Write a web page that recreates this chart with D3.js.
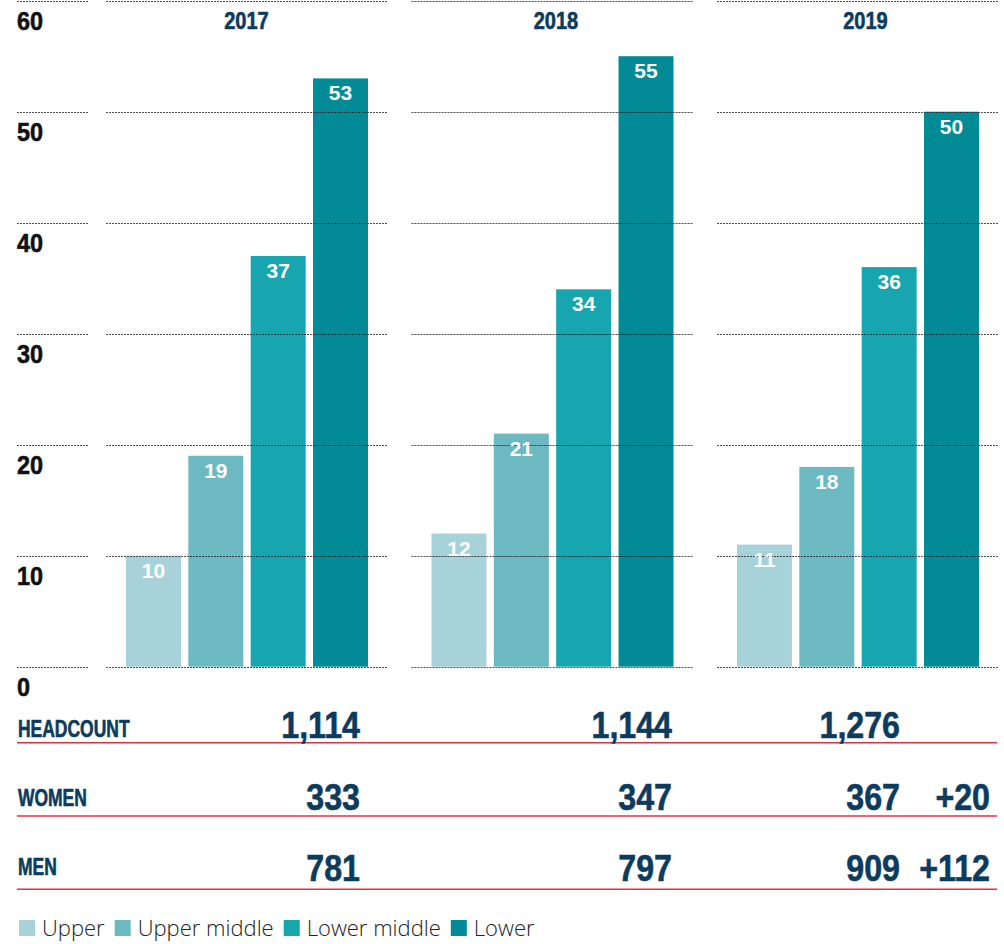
<!DOCTYPE html>
<html>
<head>
<meta charset="utf-8">
<script src="https://cdn.jsdelivr.net/npm/d3@7"></script>
<style>
  body { margin: 0; background: #fff; }
  .cond { font-family: "Liberation Sans", Arial, sans-serif; font-weight: bold; stroke-width: 0.6; }
</style>
</head>
<body>
<script>
var w = 1004;
var h = 944;

// data
var years = ["2017", "2018", "2019"];
var categories = ["Upper", "Upper middle", "Lower middle", "Lower"];
var upper = [10, 12, 11];
var upperMiddle = [19, 21, 18];
var lowerMiddle = [37, 34, 36];
var lower = [53, 55, 50];
var yTicks = [0, 10, 20, 30, 40, 50, 60];

var rowLabels = ["HEADCOUNT", "WOMEN", "MEN"];
var headcount = ["1,114", "1,144", "1,276"];
var women = ["333", "347", "367"];
var men = ["781", "797", "909"];
var change = ["", "+20", "+112"];

var colors = ["#a8d2d9", "#6cb9c2", "#17a5b0", "#028b96"];
var navy = "#0d3b5e";

var series = [upper, upperMiddle, lowerMiddle, lower];
var rows = [headcount, women, men];

var svg = d3.select("body")
    .append("svg")
    .attr("width", w)
    .attr("height", h);

// no narrow font installed, so squeeze bold text horizontally
function squeeze(x, y, sx) {
    return "translate(" + x + "," + y + ") scale(" + sx + ",1)";
}

// scales
var yScale = d3.scaleLinear()
    .domain([0, 60])
    .range([666.7, 0.7]);

var xGroup = d3.scalePoint()
    .domain(years)
    .range([247, 858]);

var xLabel = d3.scalePoint()
    .domain(years)
    .range([246.5, 865.5]);

var xSub = d3.scaleBand()
    .domain(categories)
    .range([-121, 121])
    .paddingInner(0.118);

var color = d3.scaleOrdinal()
    .domain(categories)
    .range(colors);

// flatten into bar records
var bars = [];
years.forEach(function (yr, i) {
    categories.forEach(function (c, j) {
        bars.push({year: yr, cat: c, value: series[j][i]});
    });
});

// bars
svg.selectAll("rect.bar")
    .data(bars)
    .enter()
    .append("rect")
    .attr("class", "bar")
    .attr("x", function (d) { return xGroup(d.year) + xSub(d.cat); })
    .attr("y", function (d) { return yScale(d.value); })
    .attr("width", xSub.bandwidth())
    .attr("height", function (d) { return yScale(0) - yScale(d.value); })
    .attr("fill", function (d) { return color(d.cat); });

// dotted gridlines, in segments (axis + one per year)
var segments = [[17, 89]];
years.forEach(function (yr) {
    segments.push([xGroup(yr) - 141, xGroup(yr) + 141]);
});

yTicks.forEach(function (t) {
    svg.selectAll(null)
        .data(segments)
        .enter()
        .append("line")
        .attr("x1", function (s) { return s[0]; })
        .attr("x2", function (s) { return s[1]; })
        .attr("y1", Math.round(yScale(t)) + 0.5)
        .attr("y2", Math.round(yScale(t)) + 0.5)
        .attr("stroke", "#222")
        .attr("stroke-opacity", 0.8)
        .attr("stroke-width", 1)
        .attr("stroke-dasharray", "2,1");
});

// y tick labels
svg.selectAll("text.ytick")
    .data(yTicks)
    .enter()
    .append("text")
    .attr("class", "ytick cond")
    .attr("transform", function (d) { return squeeze(17, yScale(d) + 29.5, 0.9); })
    .attr("font-size", 26)
    .attr("fill", "#111")
    .attr("stroke", "#111")
    .text(function (d) { return d; });

// year labels
svg.selectAll("text.year")
    .data(years)
    .enter()
    .append("text")
    .attr("class", "year cond")
    .attr("transform", function (d) { return squeeze(xLabel(d), 29, 0.87); })
    .attr("text-anchor", "middle")
    .attr("font-size", 23)
    .attr("fill", navy)
    .attr("stroke", navy)
    .text(function (d) { return d; });

// value labels in bars
svg.selectAll("text.val")
    .data(bars)
    .enter()
    .append("text")
    .attr("class", "val")
    .attr("x", function (d) { return xGroup(d.year) + xSub(d.cat) + xSub.bandwidth() / 2; })
    .attr("y", function (d) { return yScale(d.value) + 22; })
    .attr("text-anchor", "middle")
    .attr("font-family", "Liberation Sans, Arial, sans-serif")
    .attr("font-weight", "bold")
    .attr("font-size", 21)
    .attr("fill", "#fff")
    .text(function (d) { return d.value; });

// table rows
var colRight = [360, 672, 900];
rowLabels.forEach(function (lab, i) {
    var lineY = 742.7 + 73.3 * i;
    var valY = 738.3 + 71.3 * i;
    var labY = 736.7 + 69.2 * i;

    svg.append("line")
        .attr("x1", 17)
        .attr("x2", 997)
        .attr("y1", lineY)
        .attr("y2", lineY)
        .attr("stroke", "#e2323f")
        .attr("stroke-width", 1.5);

    svg.append("text")
        .attr("class", "cond")
        .attr("transform", squeeze(18, labY, 0.76))
        .attr("font-size", 23)
        .attr("fill", navy)
        .attr("stroke", navy)
        .text(lab);

    svg.selectAll(null)
        .data(rows[i])
        .enter()
        .append("text")
        .attr("class", "cond")
        .attr("transform", function (d, j) { return squeeze(colRight[j], valY, 0.87); })
        .attr("text-anchor", "end")
        .attr("font-size", 37)
        .attr("fill", navy)
        .attr("stroke", navy)
        .text(function (d) { return d; });

    if (change[i]) {
        svg.append("text")
            .attr("class", "cond")
            .attr("transform", squeeze(990, valY, 0.87))
            .attr("text-anchor", "end")
            .attr("font-size", 37)
            .attr("fill", navy)
            .attr("stroke", navy)
            .text(change[i]);
    }
});

// legend
var legend = svg.append("g").attr("class", "legend");
var lx = 19;
categories.forEach(function (c) {
    legend.append("rect")
        .attr("x", lx)
        .attr("y", 920)
        .attr("width", 16)
        .attr("height", 16)
        .attr("fill", color(c));
    var t = legend.append("text")
        .attr("x", lx + 23)
        .attr("y", 936)
        .attr("font-family", "Open Sans, Liberation Sans, sans-serif")
        .attr("font-weight", 300)
        .attr("font-size", 22)
        .attr("fill", "#222")
        .text(c);
    lx = lx + 23 + t.node().getComputedTextLength() + 10;
});
</script>
</body>
</html>
